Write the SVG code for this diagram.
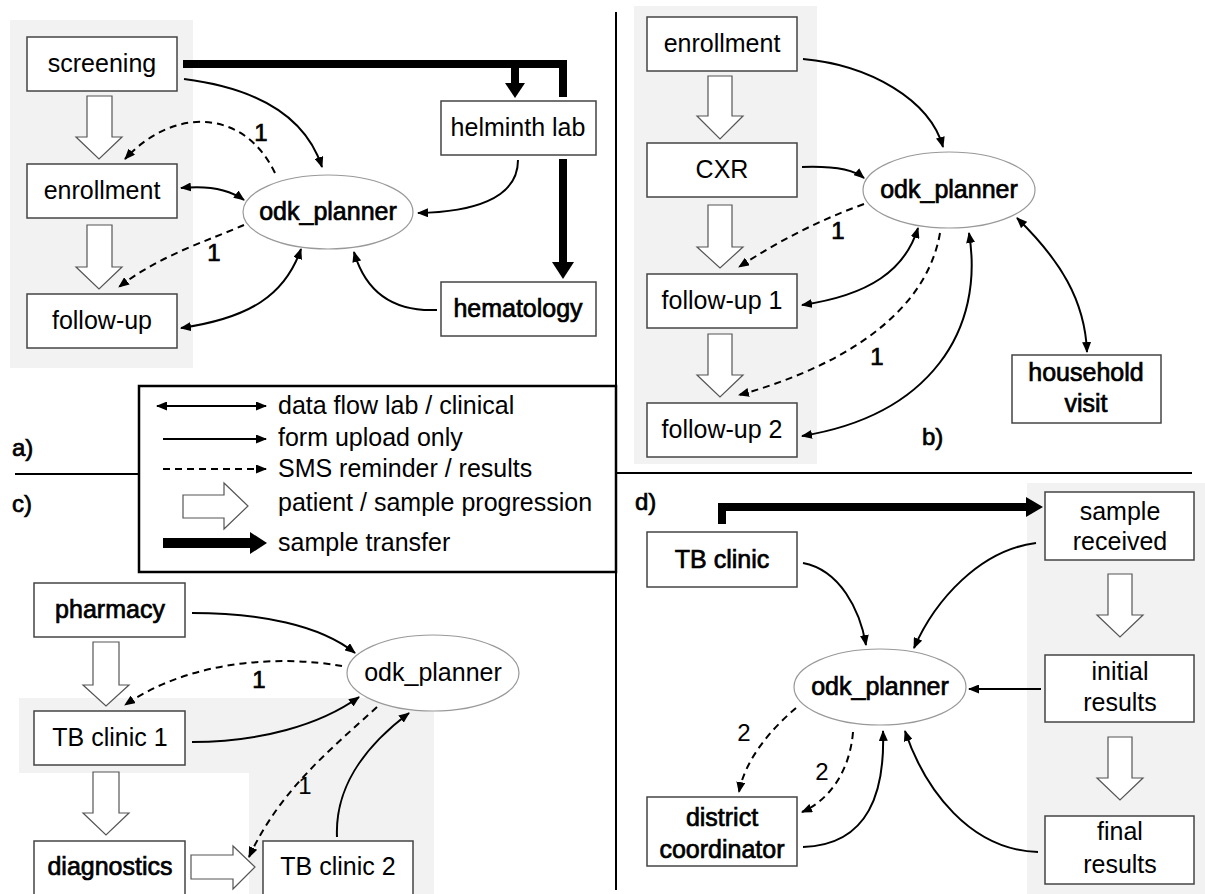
<svg xmlns="http://www.w3.org/2000/svg" width="1205" height="894" viewBox="0 0 1205 894">
<style>
text{font-family:"Liberation Sans",Arial,sans-serif;font-size:25px;fill:#000}
.c{text-anchor:middle}
.b{stroke:#000;stroke-width:0.7px}
.lbl{font-size:24px}
.box{fill:#fff;stroke:#444;stroke-width:1.5}
.ell{fill:#fff;stroke:#999;stroke-width:1.2}
.bg{fill:#f2f2f2}
.hol{fill:#fff;stroke:#555;stroke-width:1.2}
.ln{fill:none;stroke:#000;stroke-width:2}
.ds{fill:none;stroke:#000;stroke-width:2;stroke-dasharray:7,5}
.th{fill:none;stroke:#000;stroke-width:8}
.div{stroke:#000;stroke-width:2;fill:none}
</style>
<defs>
<marker id="ah" markerUnits="userSpaceOnUse" markerWidth="11" markerHeight="9" refX="10" refY="4.5" orient="auto-start-reverse"><path d="M0,0 L11,4.5 L0,9 Z" fill="#000"/></marker>
</defs>
<rect width="1205" height="894" fill="#fff"/>
<!-- backgrounds -->
<rect class="bg" x="10" y="20" width="183" height="348"/>
<rect class="bg" x="634" y="6" width="183" height="458"/>
<path class="bg" d="M19,698 H434 V894 H249 V773 H19 Z"/>
<rect class="bg" x="1027" y="483" width="178" height="411"/>
<!-- dividers and legend -->
<g id="dividers">
<line class="div" x1="616" y1="12" x2="616" y2="386"/>
<line class="div" x1="616" y1="572" x2="616" y2="890"/>
<line class="div" x1="15" y1="474" x2="139" y2="474"/>
<line class="div" x1="616" y1="473" x2="1192" y2="473"/>
</g>
<g id="legend">
<rect x="139" y="386" width="477" height="186" fill="#fff" stroke="#000" stroke-width="2.5"/>
<path class="ln" d="M157,406 H266" marker-start="url(#ah)" marker-end="url(#ah)"/>
<text x="278" y="414">data flow lab / clinical</text>
<path class="ln" d="M163,439 H266" marker-end="url(#ah)"/>
<text x="278" y="446">form upload only</text>
<path class="ds" d="M163,469 H266" marker-end="url(#ah)" stroke-dasharray="2,6,8,6,8,6,8,6,8,6,8,6,8,6"/>
<text x="278" y="477">SMS reminder / results</text>
<polygon class="hol" points="183,495 224,495 224,483 248,506 224,529 224,518 183,518"/>
<text x="278" y="511">patient / sample progression</text>
<path d="M163,543 H252" stroke="#000" stroke-width="10" fill="none"/>
<polygon points="250,532 267,543 250,554" fill="#000"/>
<text x="278" y="551">sample transfer</text>
</g>
<!-- panel labels -->
<text class="lbl b" x="12" y="456">a)</text>
<text class="lbl b" x="12" y="512">c)</text>
<text class="lbl b" x="922" y="445">b)</text>
<text class="lbl b" x="635" y="510">d)</text>

<!-- connectors -->
<g id="connectors">
<!-- panel a -->
<path class="th" d="M183,64 H563 V97"/>
<path class="th" d="M515,64 V85"/>
<polygon points="505,83 525,83 515,98" fill="#000"/>
<path class="th" d="M563,159 V264"/>
<polygon points="552,262 574,262 563,279" fill="#000"/>
<path class="ln" d="M184,79 C255,88 305,115 322,167" marker-end="url(#ah)"/>
<path class="ds" d="M275,173 C245,110 175,105 125,159" marker-end="url(#ah)"/>
<path class="ln" d="M181,188 C210,185 230,190 244,200" marker-start="url(#ah)" marker-end="url(#ah)"/>
<path class="ds" d="M244,225 C210,240 160,255 119,287" marker-end="url(#ah)"/>
<path class="ln" d="M181,328 C250,318 285,295 301,249" marker-start="url(#ah)" marker-end="url(#ah)"/>
<path class="ln" d="M518,160 C518,200 470,212 418,213" marker-end="url(#ah)"/>
<path class="ln" d="M437,310 C390,312 365,290 354,252" marker-end="url(#ah)"/>
<polygon class="hol" points="87,96 112,96 112,137 122,137 99,159 76,137 87,137"/>
<polygon class="hol" points="87,225 112,225 112,267 122,267 99,289 76,267 87,267"/>
<text class="c lbl b" x="261" y="141">1</text>
<text class="c lbl b" x="214" y="261">1</text>
<!-- panel b -->
<path class="ln" d="M803,59 C870,65 930,100 943,147" marker-end="url(#ah)"/>
<path class="ln" d="M802,167 C830,166 852,168 864,178" marker-end="url(#ah)"/>
<path class="ds" d="M864,204 C820,220 780,240 739,267" marker-end="url(#ah)"/>
<path class="ln" d="M802,305 C870,295 905,270 918,228" marker-start="url(#ah)" marker-end="url(#ah)"/>
<path class="ds" d="M940,233 C925,320 830,370 739,395" marker-end="url(#ah)"/>
<path class="ln" d="M802,436 C930,415 985,330 969,233" marker-start="url(#ah)" marker-end="url(#ah)"/>
<path class="ln" d="M1017,218 C1060,260 1085,300 1087,352" marker-start="url(#ah)" marker-end="url(#ah)"/>
<polygon class="hol" points="708,76 732,76 732,116 743,116 720,139 697,116 708,116"/>
<polygon class="hol" points="708,205 732,205 732,247 743,247 720,268 697,247 708,247"/>
<polygon class="hol" points="708,334 732,334 732,375 743,375 720,397 697,375 708,375"/>
<text class="c lbl b" x="838" y="239">1</text>
<text class="c lbl b" x="877" y="365">1</text>
<!-- panel c -->
<path class="ln" d="M192,613 C260,613 320,625 355,653" marker-end="url(#ah)"/>
<path class="ds" d="M342,666 C280,655 190,660 125,705" marker-end="url(#ah)"/>
<path class="ln" d="M192,742 C260,742 320,725 359,697" marker-end="url(#ah)"/>
<path class="ds" d="M377,707 C330,750 280,790 249,857" marker-end="url(#ah)"/>
<path class="ln" d="M337,837 C335,790 360,750 409,713" marker-end="url(#ah)"/>
<polygon class="hol" points="93,642 119,642 119,685 129,685 106,706 83,685 93,685"/>
<polygon class="hol" points="93,772 119,772 119,813 129,813 106,835 83,813 93,813"/>
<polygon class="hol" points="191,855 233,855 233,846 255,867 233,889 233,879 191,879"/>
<text class="c lbl b" x="259" y="688">1</text>
<text class="c lbl" x="305" y="794">1</text>
<!-- panel d -->
<path class="th" d="M722,524 V507 H1028"/>
<polygon points="1026,497 1043,507 1026,517" fill="#000"/>
<path class="ln" d="M803,563 C840,570 860,610 866,645" marker-end="url(#ah)"/>
<path class="ln" d="M1036,543 C980,550 935,600 914,648" marker-end="url(#ah)"/>
<path class="ln" d="M1041,689 L969,689" marker-end="url(#ah)"/>
<path class="ln" d="M1038,852 C970,850 925,790 905,731" marker-end="url(#ah)"/>
<path class="ln" d="M803,847 C870,845 885,790 883,731" marker-end="url(#ah)"/>
<path class="ds" d="M796,708 C770,730 745,760 739,792" marker-end="url(#ah)"/>
<path class="ds" d="M853,732 C850,770 830,800 802,812" marker-end="url(#ah)"/>
<polygon class="hol" points="1108,574 1132,574 1132,615 1143,615 1120,637 1097,615 1108,615"/>
<polygon class="hol" points="1108,737 1132,737 1132,778 1143,778 1120,800 1097,778 1108,778"/>
<text class="c lbl" x="744" y="741">2</text>
<text class="c lbl" x="822" y="780">2</text>
</g>

<!-- panel a nodes -->
<g id="a-screening"><rect class="box" x="27" y="37" width="150" height="54"/><text class="c" x="102" y="72">screening</text></g>
<g id="a-enrollment"><rect class="box" x="27" y="164" width="150" height="54"/><text class="c" x="102" y="199">enrollment</text></g>
<g id="a-followup"><rect class="box" x="27" y="294" width="150" height="54"/><text class="c" x="102" y="329">follow-up</text></g>
<g id="a-helminth"><rect class="box" x="441" y="101" width="155" height="54"/><text class="c" x="518" y="136">helminth lab</text></g>
<g id="a-hematology"><rect class="box" x="441" y="282" width="155" height="54" stroke="#777"/><text class="c b" x="518" y="317">hematology</text></g>
<g id="a-odk"><ellipse class="ell" cx="328" cy="212" rx="85" ry="37"/><text class="c b" x="328" y="220">odk_planner</text></g>

<!-- panel b nodes -->
<g id="b-enrollment"><rect class="box" x="647" y="17" width="150" height="54"/><text class="c" x="722" y="52">enrollment</text></g>
<g id="b-cxr"><rect class="box" x="647" y="143" width="150" height="54"/><text class="c" x="722" y="178">CXR</text></g>
<g id="b-followup1"><rect class="box" x="647" y="274" width="150" height="54"/><text class="c" x="722" y="309">follow-up 1</text></g>
<g id="b-followup2"><rect class="box" x="647" y="403" width="150" height="54"/><text class="c" x="722" y="438">follow-up 2</text></g>
<g id="b-household"><rect class="box" x="1012" y="355" width="149" height="68"/><text class="c b" x="1086" y="381">household</text><text class="c b" x="1086" y="412">visit</text></g>
<g id="b-odk"><ellipse class="ell" cx="949" cy="190" rx="86" ry="38"/><text class="c b" x="949" y="198">odk_planner</text></g>

<!-- panel c nodes -->
<g id="c-pharmacy"><rect class="box" x="34" y="583" width="151" height="54"/><text class="c b" x="110" y="618">pharmacy</text></g>
<g id="c-tbclinic1"><rect class="box" x="34" y="711" width="151" height="54"/><text class="c" x="110" y="746">TB clinic 1</text></g>
<g id="c-diagnostics"><rect class="box" x="34" y="841" width="151" height="60"/><text class="c b" x="110" y="875">diagnostics</text></g>
<g id="c-tbclinic2"><rect class="box" x="263" y="841" width="150" height="60"/><text class="c" x="338" y="875">TB clinic 2</text></g>
<g id="c-odk"><ellipse class="ell" cx="433" cy="673" rx="86" ry="38"/><text class="c" x="433" y="681">odk_planner</text></g>

<!-- panel d nodes -->
<g id="d-tbclinic"><rect class="box" x="647" y="532" width="150" height="55"/><text class="c b" x="722" y="568">TB clinic</text></g>
<g id="d-sample"><rect class="box" x="1045" y="492" width="149" height="68"/><text class="c" x="1120" y="520">sample</text><text class="c" x="1120" y="550">received</text></g>
<g id="d-initial"><rect class="box" x="1045" y="655" width="149" height="67"/><text class="c" x="1120" y="680">initial</text><text class="c" x="1120" y="711">results</text></g>
<g id="d-final"><rect class="box" x="1045" y="816" width="149" height="68"/><text class="c" x="1120" y="840">final</text><text class="c" x="1120" y="873">results</text></g>
<g id="d-district"><rect class="box" x="647" y="797" width="150" height="69"/><text class="c b" x="722" y="826">district</text><text class="c b" x="722" y="858">coordinator</text></g>
<g id="d-odk"><ellipse class="ell" cx="880" cy="687" rx="86" ry="38"/><text class="c b" x="880" y="695">odk_planner</text></g>
</svg>
